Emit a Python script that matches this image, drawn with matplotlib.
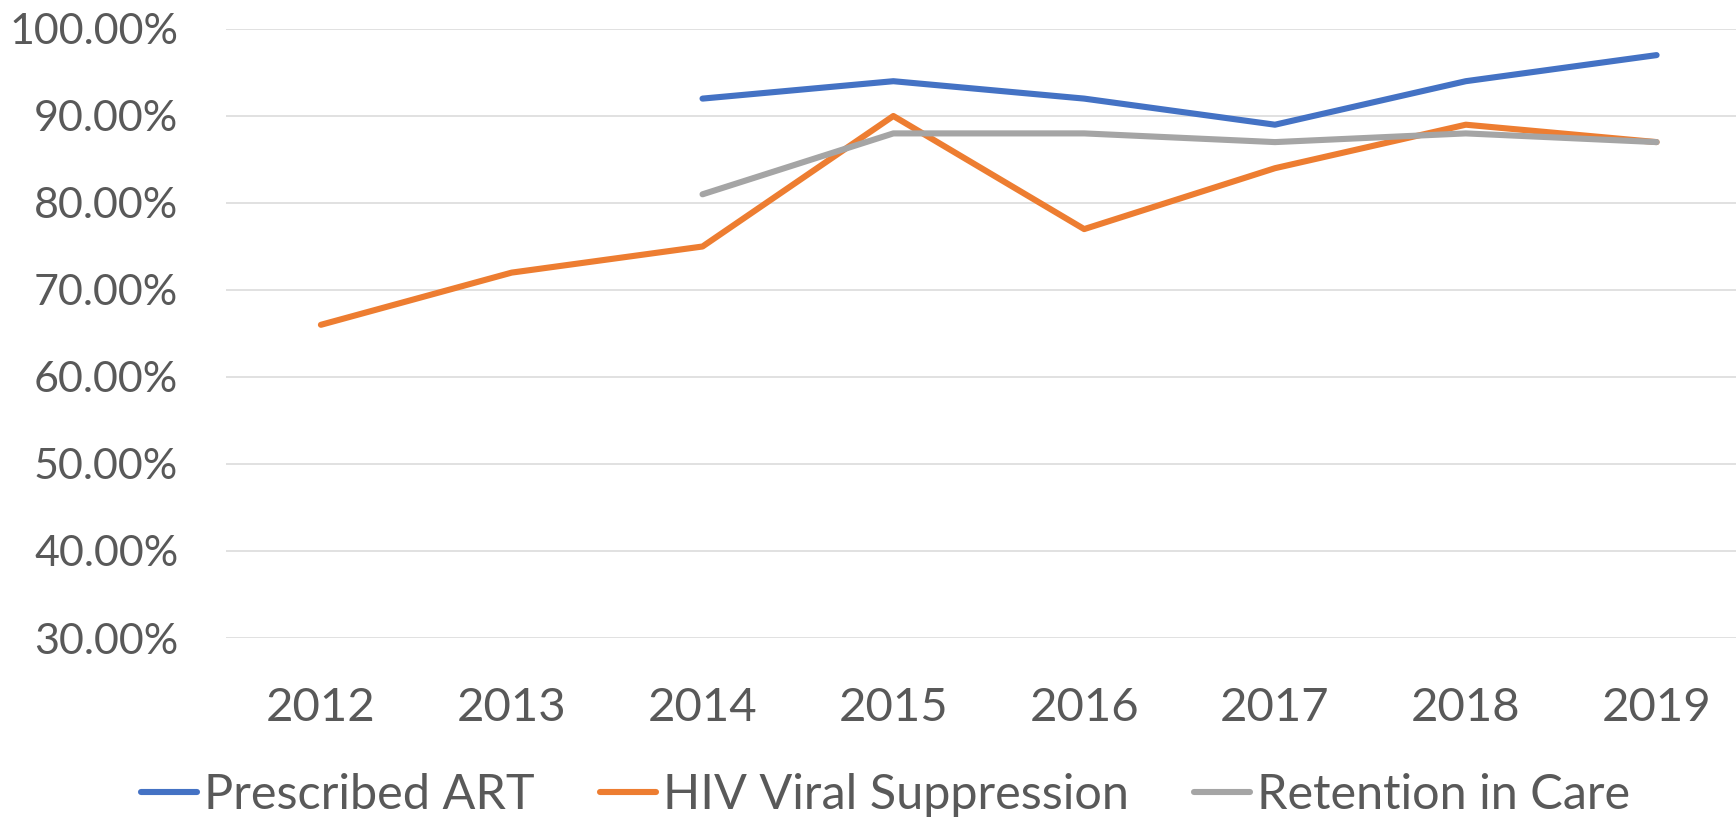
import matplotlib
matplotlib.use("Agg")
import matplotlib.pyplot as plt
from matplotlib.ticker import FuncFormatter, MultipleLocator

years = ["2012", "2013", "2014", "2015", "2016", "2017", "2018", "2019"]
prescribed_art = [None, None, 0.92, 0.94, 0.92, 0.89, 0.94, 0.97]
viral_suppression = [0.66, 0.72, 0.75, 0.90, 0.77, 0.84, 0.89, 0.87]
retention_in_care = [None, None, 0.81, 0.88, 0.88, 0.87, 0.88, 0.87]

series_names = ["Prescribed ART", "HIV Viral Suppression", "Retention in Care"]
colors = ["#4472C4", "#ED7D31", "#A5A5A5"]
text_color = "#595959"

plt.rcParams['font.family'] = ['Lato', 'DejaVu Sans']

W, H = 1736, 821
fig = plt.figure(figsize=(W / 100, H / 100), dpi=100)
left_px, right_px = 225.5, 1752
top_px, bottom_px = 29, 638
ax = fig.add_axes([left_px / W, 1 - bottom_px / H, (right_px - left_px) / W, (bottom_px - top_px) / H])

x = list(range(len(years)))
for vals, name, c in zip([prescribed_art, viral_suppression, retention_in_care], series_names, colors):
    xs = [xi for xi, v in zip(x, vals) if v is not None]
    ys = [v for v in vals if v is not None]
    ax.plot(xs, ys, color=c, lw=4.4, label=name, solid_capstyle='round', solid_joinstyle='round', zorder=3)

ax.set_xlim(-0.5, len(years) - 0.5)
ax.set_ylim(0.30, 1.00)
ax.yaxis.set_major_locator(MultipleLocator(0.10))
ax.yaxis.set_major_formatter(FuncFormatter(lambda v, p: f"{v*100:.2f}%"))
ax.set_xticks(x)
ax.set_xticklabels(years)
ax.grid(axis='y', color='#D9D9D9', lw=1.1, zorder=0)
ax.set_axisbelow(True)
for s in ax.spines.values():
    s.set_visible(False)
ax.tick_params(axis='both', length=0, colors=text_color)
ax.tick_params(axis='y', labelsize=31, pad=34)
ax.tick_params(axis='x', labelsize=34, pad=35)

fig.legend(loc='center', bbox_to_anchor=(885.5 / W, 1 - 795 / H), ncol=3, frameon=False,
           fontsize=35, handlelength=1.15, handletextpad=0.14, columnspacing=1.35,
           labelcolor=text_color, borderaxespad=0, borderpad=0)

fig.savefig("out.png", dpi=100)
